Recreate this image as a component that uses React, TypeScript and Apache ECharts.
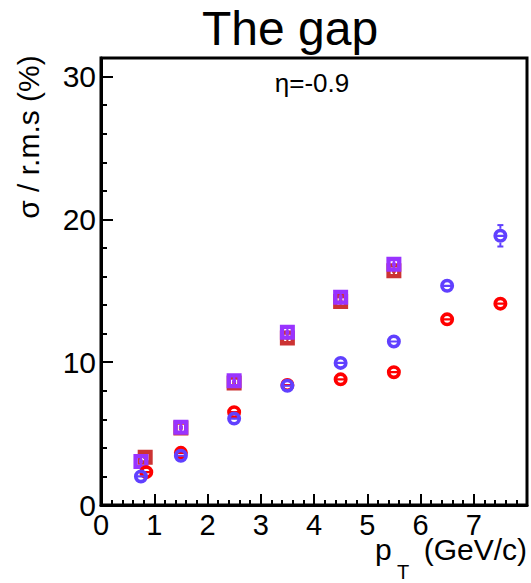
import React, { useEffect, useRef } from "react";
import * as echarts from "echarts";

// sigma / r.m.s (%) versus pT, four samples
const redCircleX = [0.85, 1.5, 2.5, 3.5, 4.5, 5.5, 6.5, 7.5];
const redCircleY = [2.3, 3.65, 6.5, 8.4, 8.8, 9.3, 13.0, 14.1];
const redCircleErr = [0.2, 0.2, 0.2, 0.2, 0.25, 0.25, 0.2, 0.2];

const blueCircleX = [0.75, 1.5, 2.5, 3.5, 4.5, 5.5, 6.5, 7.5];
const blueCircleY = [2.0, 3.45, 6.05, 8.35, 9.95, 11.45, 15.35, 18.85];
const blueCircleErr = [0.2, 0.2, 0.2, 0.2, 0.2, 0.25, 0.3, 0.75];

const redSquareX = [0.83, 1.5, 2.5, 3.5, 4.5, 5.5];
const redSquareY = [3.35, 5.4, 8.55, 11.7, 14.25, 16.4];
const redSquareErr = [0.2, 0.2, 0.25, 0.3, 0.3, 0.3];

const purpleSquareX = [0.75, 1.5, 2.5, 3.5, 4.5, 5.5];
const purpleSquareY = [3.05, 5.45, 8.7, 12.1, 14.55, 16.85];
const purpleSquareErr = [0.2, 0.2, 0.25, 0.3, 0.3, 0.3];

const FONT = "'Liberation Sans', Arial, Helvetica, sans-serif";

// open circle with a bar through the middle, and open square with inner brackets
const CIRCLE_PATH =
  "path://M0 -7 A7 7 0 1 1 0 7 A7 7 0 1 1 0 -7 Z " +
  "M-3.3 -1.1 L3.3 -1.1 A3.5 3.5 0 0 0 -3.3 -1.1 Z " +
  "M-3.3 1.1 A3.5 3.5 0 0 0 3.3 1.1 Z";
const SQUARE_PATH =
  "path://M0 0 H14 V14 H0 Z " +
  "M4 4 V10 H6 V8.8 H5.2 V5.2 H6 V4 Z " +
  "M10 4 H8 V5.2 H8.8 V8.8 H8 V10 H10 Z";

function points(xs: number[], ys: number[]) {
  return xs.map((x, i) => [x, ys[i]]);
}

// vertical error bars, drawn only where they stick out of the marker
function errorBars(xs: number[], ys: number[], errs: number[], color: string, halfPx: number, z: number) {
  return {
    type: "custom",
    z,
    silent: true,
    data: xs.map((x, i) => [x, ys[i], errs[i]]),
    encode: { x: 0, y: 1 },
    renderItem: (_params: any, api: any) => {
      const x = api.value(0);
      const y = api.value(1);
      const e = api.value(2);
      const c = api.coord([x, y]);
      const hi = api.coord([x, y + e]);
      const lo = api.coord([x, y - e]);
      const style = { stroke: color, lineWidth: 2 };
      const children: any[] = [];
      if (c[1] - hi[1] > halfPx) {
        children.push({ type: "line", shape: { x1: c[0], y1: hi[1], x2: c[0], y2: c[1] - halfPx }, style });
        children.push({ type: "line", shape: { x1: c[0] - 3, y1: hi[1], x2: c[0] + 3, y2: hi[1] }, style });
      }
      if (lo[1] - c[1] > halfPx) {
        children.push({ type: "line", shape: { x1: c[0], y1: c[1] + halfPx, x2: c[0], y2: lo[1] }, style });
        children.push({ type: "line", shape: { x1: c[0] - 3, y1: lo[1], x2: c[0] + 3, y2: lo[1] }, style });
      }
      return { type: "group", children };
    },
  };
}

export default function App() {
  const ref = useRef<HTMLDivElement>(null);

  useEffect(() => {
    if (!ref.current) return;
    const chart = echarts.init(ref.current, undefined, { renderer: "svg" });

    const yCommon = {
      type: "value",
      min: 0,
      max: 31.3,
      position: "left",
      splitLine: { show: false },
    };

    chart.setOption({
      animation: false,
      backgroundColor: "#fff",
      grid: {
        left: 101,
        right: 4,
        top: 58,
        bottom: 78,
        show: true,
        borderColor: "#000",
        borderWidth: 3,
        backgroundColor: "transparent",
      },
      xAxis: {
        type: "value",
        min: 0,
        max: 8,
        interval: 1,
        axisLine: { lineStyle: { color: "#000", width: 3 } },
        axisTick: { inside: true, length: 11, lineStyle: { color: "#000", width: 2 } },
        minorTick: { show: true, splitNumber: 5, length: 5, lineStyle: { color: "#000", width: 2 } },
        splitLine: { show: false },
        minorSplitLine: { show: false },
        axisLabel: {
          fontSize: 29,
          lineHeight: 22,
          color: "#000",
          margin: 9,
          fontFamily: FONT,
          showMaxLabel: false,
        },
      },
      yAxis: [
        {
          ...yCommon,
          interval: 10,
          axisLine: { lineStyle: { color: "#000", width: 3 } },
          axisTick: { inside: true, length: 12, lineStyle: { color: "#000", width: 2 } },
          axisLabel: { fontSize: 30, color: "#000", margin: 5, fontFamily: FONT, showMaxLabel: false },
        },
        {
          ...yCommon,
          interval: 2,
          axisLine: { show: false },
          axisTick: { inside: true, length: 6, lineStyle: { color: "#000", width: 2 } },
          axisLabel: { show: false },
        },
      ],
      graphic: [
        {
          type: "text",
          x: 290,
          y: 28,
          style: { text: "The gap", font: `48px ${FONT}`, fill: "#000", align: "center", verticalAlign: "middle" },
        },
        {
          type: "text",
          x: 312,
          y: 83,
          style: { text: "η=-0.9", font: `26px ${FONT}`, fill: "#000", align: "center", verticalAlign: "middle" },
        },
        {
          type: "text",
          x: 28,
          y: 137,
          rotation: Math.PI / 2,
          style: { text: "σ / r.m.s (%)", font: `30px ${FONT}`, fill: "#000", align: "center", verticalAlign: "middle" },
        },
        {
          type: "text",
          x: 375,
          y: 549,
          style: {
            text: "p",
            font: `30px ${FONT}`,
            lineHeight: 22,
            fill: "#000",
            align: "left",
            verticalAlign: "middle",
          },
        },
        {
          type: "text",
          x: 397,
          y: 572,
          style: {
            text: "T",
            font: `20px ${FONT}`,
            lineHeight: 18,
            fill: "#000",
            align: "left",
            verticalAlign: "middle",
          },
        },
        {
          type: "text",
          x: 527,
          y: 549,
          style: {
            text: "(GeV/c)",
            font: `30px ${FONT}`,
            lineHeight: 22,
            fill: "#000",
            align: "right",
            verticalAlign: "middle",
          },
        },
      ],
      series: [
        errorBars(redSquareX, redSquareY, redSquareErr, "#cc3333", 7.5, 1),
        errorBars(purpleSquareX, purpleSquareY, purpleSquareErr, "#9933ff", 7.5, 1),
        errorBars(redCircleX, redCircleY, redCircleErr, "#ff0000", 7, 1),
        errorBars(blueCircleX, blueCircleY, blueCircleErr, "#6040ff", 7, 1),
        {
          type: "scatter",
          z: 2,
          data: points(redSquareX, redSquareY),
          symbol: SQUARE_PATH,
          symbolSize: 15,
          itemStyle: { color: "#cc3333", opacity: 1 },
        },
        {
          type: "scatter",
          z: 3,
          data: points(purpleSquareX, purpleSquareY),
          symbol: SQUARE_PATH,
          symbolSize: 15,
          itemStyle: { color: "#9933ff", opacity: 1 },
        },
        {
          type: "scatter",
          z: 4,
          data: points(redCircleX, redCircleY),
          symbol: CIRCLE_PATH,
          symbolSize: 14,
          itemStyle: { color: "#ff0000", opacity: 1 },
        },
        {
          type: "scatter",
          z: 5,
          data: points(blueCircleX, blueCircleY),
          symbol: CIRCLE_PATH,
          symbolSize: 14,
          itemStyle: { color: "#6040ff", opacity: 1 },
        },
      ],
    });

    return () => chart.dispose();
  }, []);

  return (
    <div
      ref={ref}
      style={{ position: "fixed", left: 0, top: 0, width: 531, height: 583, background: "#fff" }}
    />
  );
}
